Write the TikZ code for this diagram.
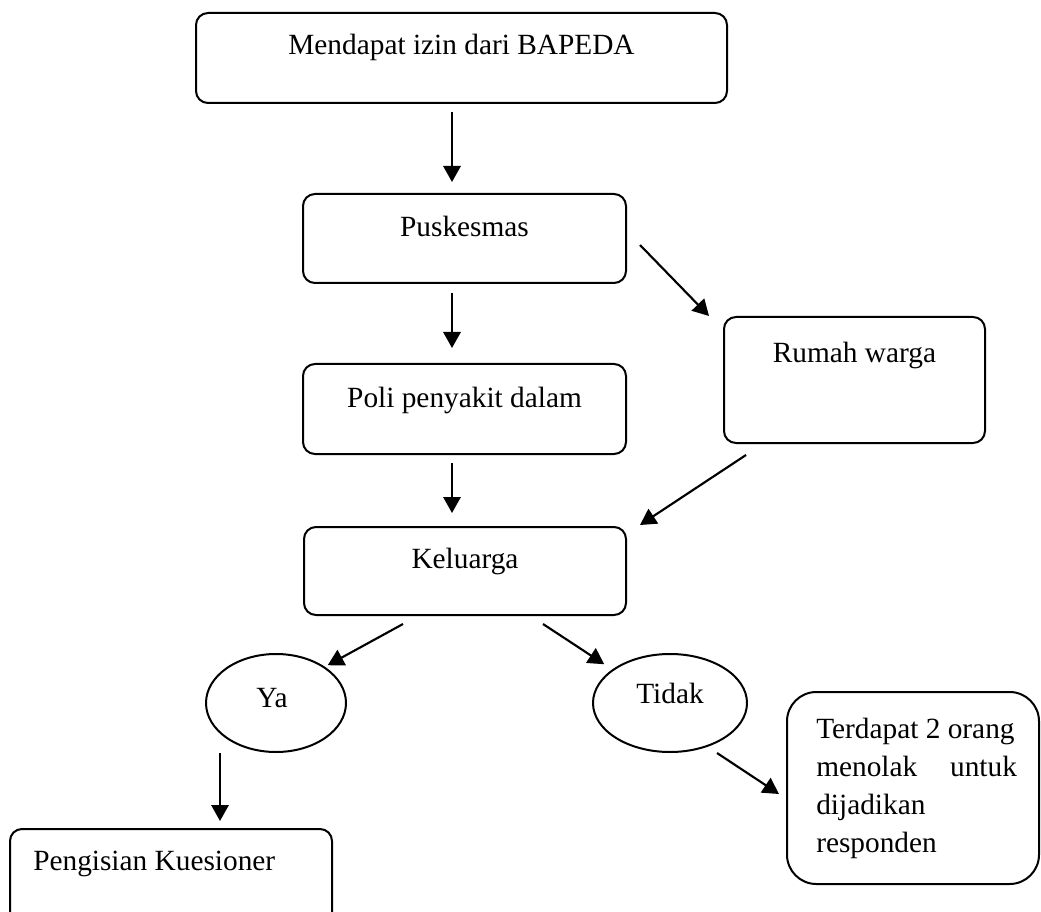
\documentclass[tikz,border=0pt]{standalone}
\usepackage{fontspec}
\setmainfont{Liberation Serif}
\usetikzlibrary{arrows.meta,calc,shapes.geometric}
\begin{document}
\begin{tikzpicture}[x=0.75pt,y=-0.75pt,
  box/.style={draw, line width=1.5pt, rounded corners=9pt, inner sep=0pt},
  oval/.style={draw, ellipse, line width=1.5pt, inner sep=0pt},
  txt/.style={anchor=base, inner sep=0pt, font=\fontsize{22}{28.7}\selectfont},
  arr/.style={line width=1.6pt, -{Triangle[length=12pt,width=13pt]}}]
\clip (0,0) rectangle (1041,912);
\fill[white] (0,0) rectangle (1041,912);
% boxes
\node[box, minimum width=398.25pt, minimum height=67.5pt] (b1) at (461.5,58) {};
\node[box, minimum width=242.25pt, minimum height=66.75pt] (b2) at (464.5,238.5) {};
\node[box, minimum width=242.25pt, minimum height=67.5pt] (b3) at (464.5,409) {};
\node[box, minimum width=195.75pt, minimum height=94.5pt] (b4) at (854.5,380) {};
\node[box, minimum width=241.5pt, minimum height=66pt] (b5) at (465,571) {};
\node[oval, minimum width=105pt, minimum height=73.5pt] (ya) at (276,703) {};
\node[oval, minimum width=115.5pt, minimum height=73.5pt] (td) at (670,703) {};
\node[box, minimum width=241.5pt, minimum height=83.25pt] (b6) at (171,884.5) {};
\node[box, rounded corners=22pt, minimum width=189pt, minimum height=144pt] (b7) at (913,788) {};
% texts
\node[txt] (t1) at (461.5,55) {Mendapat izin dari BAPEDA};
\node[txt] (t2) at (464.5,237) {Puskesmas};
\node[txt] (t3) at (464.5,407) {Poli penyakit dalam};
\node[txt] (t4) at (854.5,363) {Rumah warga};
\node[txt] (t5) at (465,568) {Keluarga};
\node[txt] (t6) at (272,707) {Ya};
\node[txt] (t7) at (670,703) {Tidak};
\node[txt, anchor=base west] (t8) at (33,870) {Pengisian Kuesioner};
\node[txt, anchor=base west] (t9) at (816,738) {\begin{tabular}[t]{@{}l@{}}Terdapat 2 orang\\ \makebox[150.5pt][s]{menolak untuk}\\ dijadikan\\ responden\end{tabular}};
% arrows
\draw[arr] ($(b1.south)+(-9.5,8)$) -- ($(b2.north)+(-12.5,-11)$);
\draw[arr] ($(b2.south)+(-12.5,9)$) -- ($(b3.north)+(-12.5,-15)$);
\draw[arr] ($(b3.south)+(-12.5,8)$) -- ($(b5.north)+(-13,-13)$);
\draw[arr] ($(b2.east)+(13,6.5)$) -- ($(b4.north west)+(-14,0)$);
\draw[arr] ($(b4.south west)+(23,11)$) -- ($(b5.north east)+(13,-1)$);
\draw[arr] ($(b5.south)+(-62,8)$) -- ($(ya.north east)+(1.5,-2.4)$);
\draw[arr] ($(b5.south)+(78,8)$) -- ($(td.north west)+(-10.6,-3.4)$);
\draw[arr] ($(ya.south)+(-56,0)$) -- ($(b6.north)+(49,-7)$);
\draw[arr] ($(td.south)+(47,0)$) -- ($(b7.west)+(-7,6)$);
\end{tikzpicture}
\end{document}
